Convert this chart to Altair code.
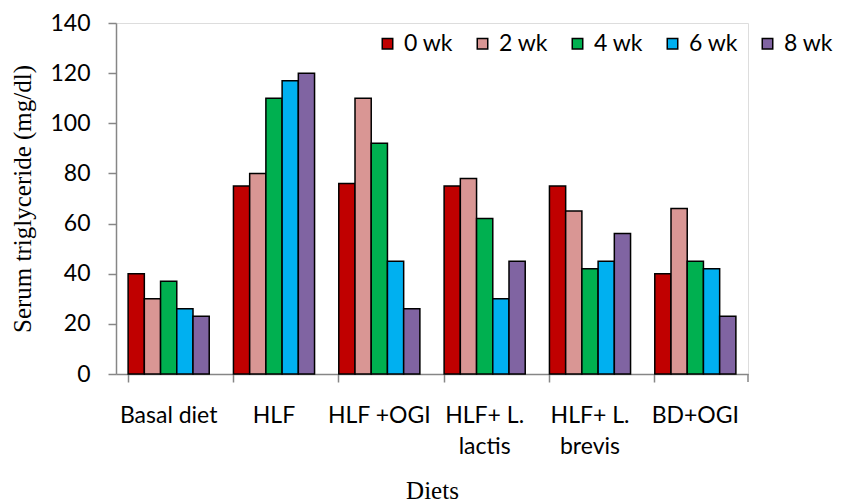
import altair as alt
import pandas as pd

diets = ["Basal diet", "HLF", "HLF +OGI", "HLF+ L.|lactis", "HLF+ L.|brevis", "BD+OGI"]
weeks = ["0 wk", "2 wk", "4 wk", "6 wk", "8 wk"]
colors = ["#C00000", "#D99694", "#00B050", "#00B0F0", "#8064A2"]
values = {
    "0 wk": [40, 75, 76, 75, 75, 40],
    "2 wk": [30, 80, 110, 78, 65, 66],
    "4 wk": [37, 110, 92, 62, 42, 45],
    "6 wk": [26, 117, 45, 30, 45, 42],
    "8 wk": [23, 120, 26, 45, 56, 23],
}

rows = []
for w in weeks:
    for d, v in zip(diets, values[w]):
        rows.append({"Diet": d, "Week": w, "Value": v})
df = pd.DataFrame(rows)

SANS = "Lato"
SERIF = "Liberation Serif"

bars = alt.Chart(df).mark_bar(stroke="black", strokeWidth=1.5).encode(
    x=alt.X("Diet:N", sort=diets,
            scale=alt.Scale(paddingInner=0.23, paddingOuter=0.115),
            axis=alt.Axis(title="Diets", labelExpr="split(datum.label, '|')",
                          labelAngle=0, labelFont=SANS, labelFontSize=23,
                          labelColor="black", labelBaseline="alphabetic",
                          labelPadding=40, labelLineHeight=31,
                          bandPosition=0, tickSize=8, tickColor="#868686",
                          domainColor="#868686", domainWidth=1.5, tickWidth=1.5,
                          titleFont=SERIF, titleFontSize=25,
                          titleFontWeight="normal", titleColor="black",
                          titleY=124, titleBaseline="alphabetic")),
    xOffset=alt.XOffset("Week:N", sort=weeks, scale=alt.Scale(paddingInner=0, paddingOuter=0)),
    y=alt.Y("Value:Q", scale=alt.Scale(domain=[0, 140]),
            axis=alt.Axis(title="Serum triglyceride (mg/dl)", values=list(range(0, 141, 20)),
                          grid=False, labelFont=SANS, labelFontSize=23,
                          labelColor="black", labelPadding=18, tickSize=8,
                          tickColor="#868686", domainColor="#868686",
                          domainWidth=1.5, tickWidth=1.5,
                          titleFont=SERIF, titleFontSize=25,
                          titleFontWeight="normal", titleColor="black",
                          titleX=-86, titleBaseline="alphabetic")),
    color=alt.Color("Week:N", sort=weeks, scale=alt.Scale(domain=weeks, range=colors),
                    legend=alt.Legend(title=None, orient="none", legendX=260, legendY=9,
                                      direction="horizontal", columns=5,
                                      symbolType="square", symbolSize=110,
                                      symbolStrokeColor="black", symbolStrokeWidth=1.5,
                                      labelFont=SANS, labelFontSize=23,
                                      labelColor="black", columnPadding=18,
                                      labelOffset=5, padding=0)),
)

edge = alt.Chart(pd.DataFrame({"x": [632]})).mark_rule(color="#868686", strokeWidth=1.5).encode(
    x=alt.value(632), y=alt.value(351), y2=alt.value(359)
)

chart = alt.layer(bars, edge).properties(
    width=632, height=351,
    autosize=alt.AutoSizeParams(type="none"),
    padding={"left": 108, "top": 15, "right": 88, "bottom": 128},
).configure_view(stroke=None).configure(background="white")

chart.save("out.html", embed_options={"renderer": "svg", "actions": False})
